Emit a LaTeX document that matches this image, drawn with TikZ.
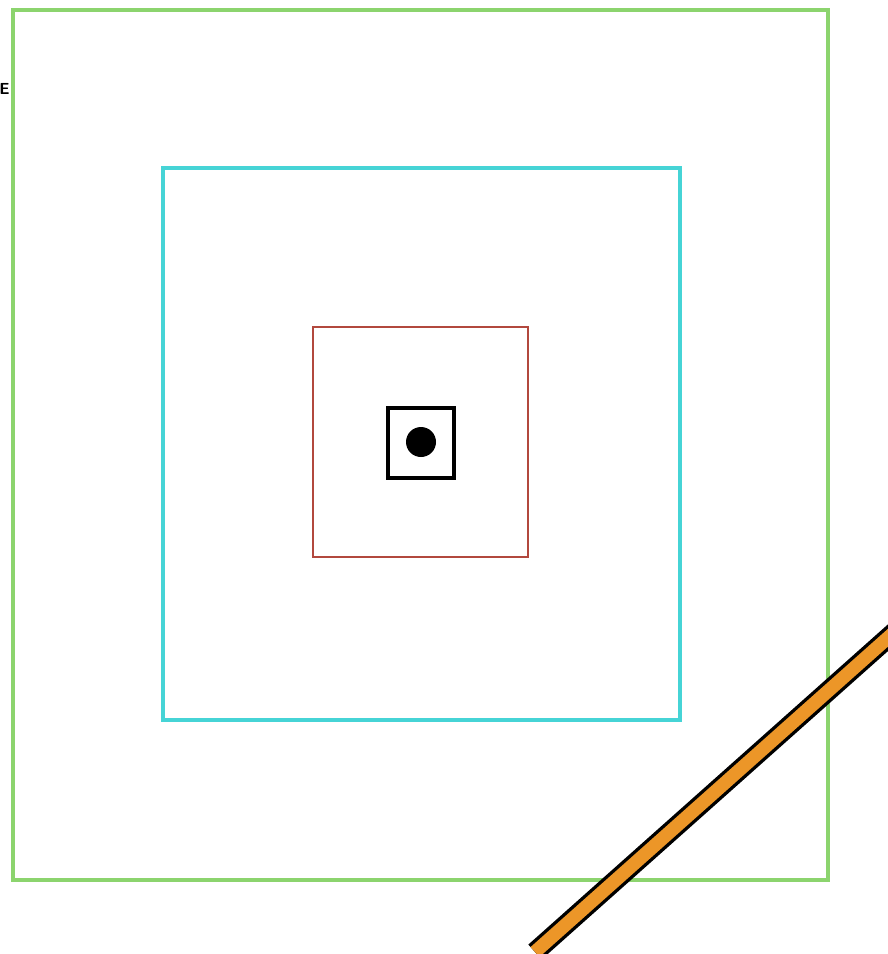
\documentclass[tikz,border=0pt]{standalone}
\usepackage{tikz}
\usetikzlibrary{positioning}
\definecolor{zonegreen}{RGB}{140,212,110}
\definecolor{zonecyan}{RGB}{70,212,214}
\definecolor{zonered}{RGB}{178,72,62}
\definecolor{pipeorange}{RGB}{236,150,40}

\begin{document}
\begin{tikzpicture}[
  x=0.75pt, y=-0.75pt,
  zone/.style={line width=2.3pt},
  core/.style={draw=black, line width=2.3pt},
]
\useasboundingbox (0,0) rectangle (888,954);
% nested zones
\draw[zone, draw=zonegreen] (13,10) rectangle (828,880);
\draw[zone, draw=zonecyan] (163,168) rectangle (680,720);
\draw[zone, draw=zonered, line width=2pt] (313,327) rectangle (528,557);
\draw[core] (388,408) rectangle (454,478);
\fill[black] (421,442) circle (15);
% cut-off label
\node[font=\sffamily\bfseries\large, inner sep=0pt, anchor=east] (lbl) at (10,89) {E};
% pipe
\coordinate (pipeA) at (535,952);
\coordinate (pipeB) at (900,627);
\draw[black, line width=15pt] (pipeA) -- (pipeB);
\draw[pipeorange, line width=10pt] (pipeA) -- (pipeB);
\end{tikzpicture}
\end{document}
